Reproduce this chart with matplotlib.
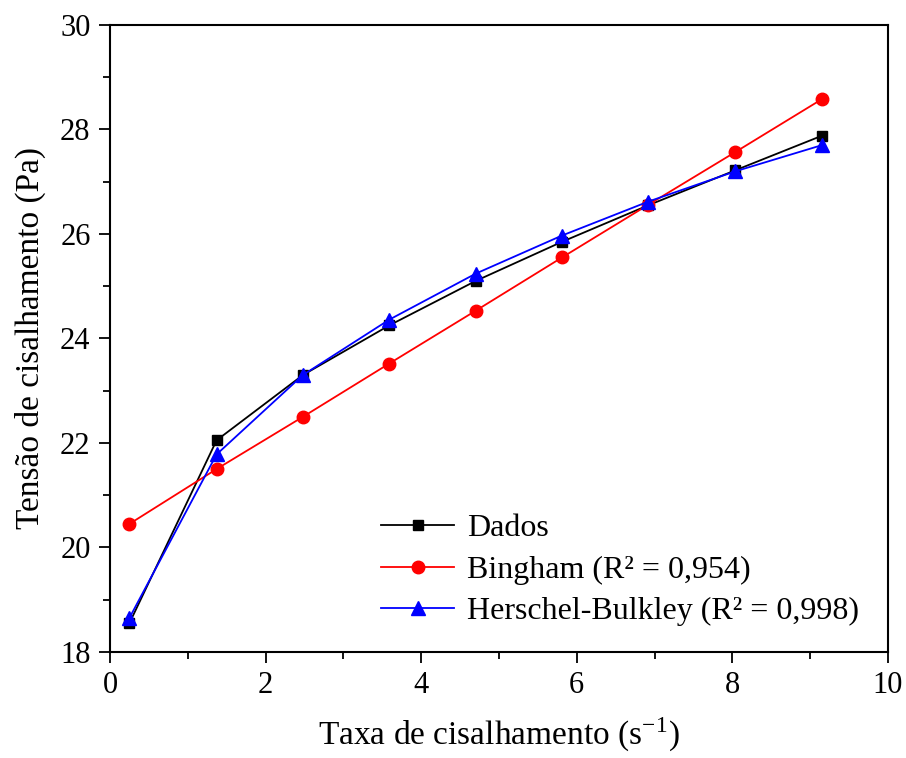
import numpy as np
import matplotlib
matplotlib.use('Agg')
import matplotlib.pyplot as plt
from matplotlib.ticker import MultipleLocator

plt.rcParams['font.family'] = ['Liberation Serif', 'DejaVu Serif']
plt.rcParams['mathtext.fontset'] = 'stix'

taxa = [0.25, 1.37, 2.48, 3.59, 4.70, 5.81, 6.92, 8.04, 9.15]
dados = [18.55, 22.05, 23.30, 24.25, 25.10, 25.85, 26.55, 27.22, 27.88]
bingham = [20.45, 21.50, 22.50, 23.52, 24.53, 25.55, 26.56, 27.57, 28.58]
hb = [18.65, 21.78, 23.30, 24.36, 25.24, 25.97, 26.62, 27.20, 27.70]

fig = plt.figure(figsize=(9.06, 7.58), dpi=100)
ax = fig.add_axes([0.1214, 0.14, 0.8587, 0.827])

ax.plot(taxa, dados, color='black', marker='s', markersize=7, lw=1.3, label='Dados')
ax.plot(taxa, bingham, color='red', marker='o', markersize=9, lw=1.3,
        label='Bingham (R\u00b2 = 0,954)')
ax.plot(taxa, hb, color='blue', marker='^', markersize=10, lw=1.3,
        label='Herschel-Bulkley (R\u00b2 = 0,998)')

ax.set_xlim(0, 10)
ax.set_ylim(18, 30)
ax.xaxis.set_major_locator(MultipleLocator(2))
ax.xaxis.set_minor_locator(MultipleLocator(1))
ax.yaxis.set_major_locator(MultipleLocator(2))
ax.yaxis.set_minor_locator(MultipleLocator(1))
ax.tick_params(which='major', direction='out', length=8, width=1.3, labelsize=22, pad=6)
ax.tick_params(which='minor', direction='out', length=5, width=1.3)
for s in ax.spines.values():
    s.set_linewidth(1.5)

ax.set_xlabel('Taxa de cisalhamento (s$^{\\mathregular{-1}}$)', fontsize=24, labelpad=11)
ax.set_ylabel('Tensão de cisalhamento (Pa)', fontsize=24, labelpad=10)

ax.legend(loc='lower right', bbox_to_anchor=(1.0, -0.005), frameon=False, fontsize=23,
          handlelength=2.3, handletextpad=0.4, labelspacing=0.38, markerscale=1.0)

fig.savefig('out.png', dpi=100)
